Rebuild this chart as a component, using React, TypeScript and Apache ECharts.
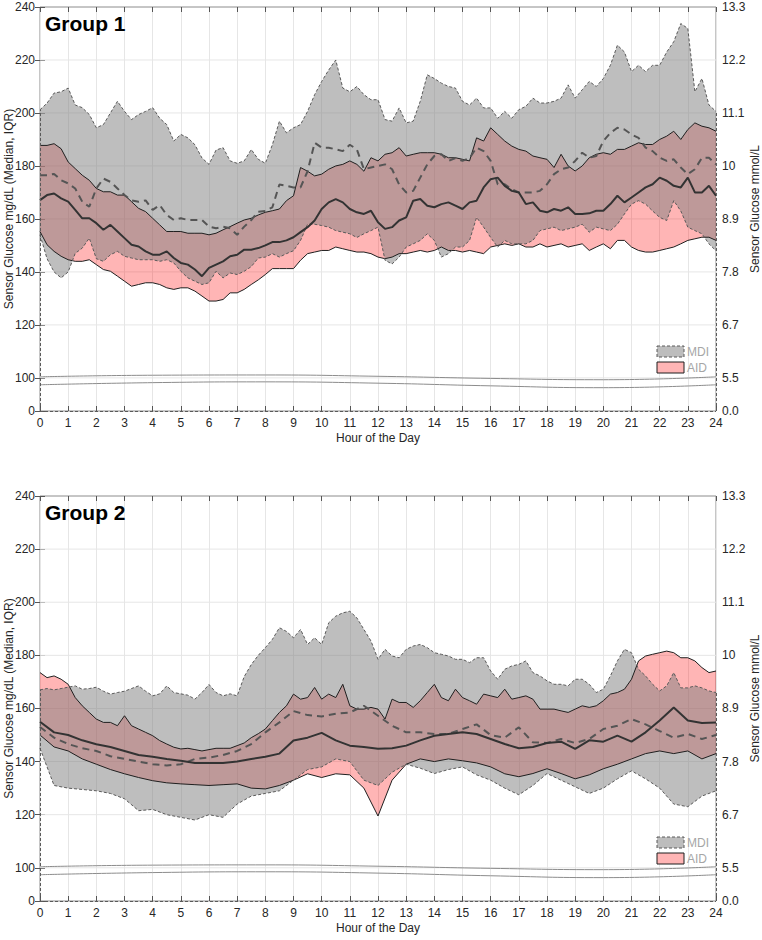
import React, { useEffect, useRef } from "react";
import * as echarts from "echarts";

// ---------- Group 1 (quarter-hour readings, 0..24 h) ----------
const G1_MDI_UPPER = [
  201.2, 203.7, 207.5, 208, 209.4, 203, 202, 199.4, 194.4, 195.6, 200, 204.4, 200.6, 197.5, 199.4, 200.6,
  202, 198, 195.6, 189.4, 191.9, 190.6, 188, 183, 180.6, 186, 186.9, 181.9, 181, 181.9, 186.2, 182.5,
  181, 188, 196.9, 192.5, 194.4, 195.6, 200.6, 206.9, 211.9, 216.2, 220, 209.4, 208, 210, 206.9, 205,
  205, 197.5, 196.9, 201.9, 196.25, 196.9, 204.4, 214.4, 213, 211.25, 210, 209.4, 204.4, 203, 205.6, 201.9,
  201.9, 198, 200.6, 198, 201.25, 202.5, 205.6, 203.75, 203.75, 204.4, 205.6, 210.6, 205.6, 208.75, 211.9, 210,
  213, 218, 225.6, 223, 215.6, 218, 215.6, 218, 218, 223, 226.9, 233.75, 231.9, 208, 213, 203, 200.6,
];
const G1_MDI_LOWER = [
  154, 145, 140, 137.75, 140, 147, 149, 152.75, 145, 144, 146.5, 147.75, 145.9, 145.25, 144.6, 144.6,
  144.6, 144, 144.6, 143.4, 140.25, 137.75, 136.5, 135.25, 135.9, 140.25, 137.75, 139.6, 139, 140.25, 142, 145.25,
  145.6, 146.9, 145.6, 146.9, 148, 151.9, 158, 158, 157.5, 156.9, 155.6, 155, 154.4, 153, 154.4, 155.6,
  156.9, 144.4, 143, 145.6, 149.4, 150.6, 151.9, 154.4, 151.9, 145.6, 146.9, 149.4, 149.4, 151.9, 160.6, 156.9,
  153, 149.4, 151.9, 150.6, 150.6, 150.6, 151.9, 155.6, 156.25, 156.9, 155.6, 156.25, 156.9, 158, 155, 156.9,
  156.25, 155.6, 158, 161.9, 165.6, 166.9, 165.6, 163, 160.6, 159.4, 166.9, 163, 156.9, 155.6, 154.4, 150.6, 148,
];
const G1_MDI_MEDIAN = [
  176.5, 176.5, 177, 174.6, 173.4, 171.5, 166.5, 164.6, 171.5, 175.25, 174, 171.5, 169, 167, 166.5, 167,
  163.4, 165.25, 161.5, 159.6, 160.25, 159.6, 159.6, 159.6, 157.1, 156.5, 157.1, 156.5, 154, 157.1, 159.6, 162.75,
  163, 164.4, 173, 172.5, 171.9, 171.9, 178, 188.75, 186.9, 186.9, 186.25, 185.6, 188, 186.25, 178.75, 179.4,
  180, 180.6, 178.75, 173, 170, 170.6, 175.6, 180.6, 183.75, 184.4, 181.9, 183, 181.9, 183, 186.9, 185.6,
  181.9, 173.1, 173.1, 171.25, 170, 170, 170, 170.6, 173.1, 176.9, 178.75, 179.4, 181.9, 185, 183.1, 183.75,
  189.4, 192.5, 194.4, 193.75, 191.9, 190.6, 186.9, 185.6, 183.1, 181.9, 182.5, 179.4, 176.9, 178.75, 183.1, 183.1, 180.6,
];
const G1_AID_UPPER = [
  187.75, 187.75, 188.4, 186.5, 181.5, 179, 176.5, 174.6, 171.5, 170.25, 170.25, 169, 169, 166.5, 164, 162.75,
  160.25, 157.75, 155.25, 155.25, 155.25, 154.6, 154.6, 154.6, 154, 154.6, 155.9, 157.1, 158.4, 159.6, 160.25, 161.5,
  162.5, 163.1, 163.75, 166.9, 168.75, 179.4, 178, 176.25, 176.9, 178.75, 180, 180.6, 181.9, 180.6, 178, 183.1,
  181.9, 184.4, 185, 186.9, 183.75, 184.4, 185, 185, 185, 184.4, 183.1, 183.1, 182.5, 181.9, 190.6, 189.4,
  194.4, 191.9, 189.4, 187.5, 186.25, 185.6, 183.75, 183.1, 182.5, 179.4, 184.4, 180, 178.1, 180, 183.1, 184.4,
  185, 184.4, 186.25, 186.25, 187.5, 188.75, 188.1, 188.1, 190, 191.25, 193.1, 190, 193.75, 196.25, 195, 194.4, 193.1,
];
const G1_AID_LOWER = [
  155.25, 150.25, 147.75, 145.9, 144.6, 144, 144, 144.6, 142.75, 140.9, 140.25, 138.4, 136.5, 134.6, 135.25, 135.9,
  135.9, 135.25, 134, 133.4, 134, 134, 132.75, 130.9, 129, 129, 129.6, 132.1, 132.1, 133.4, 135.25, 137,
  139, 141.25, 141.25, 141.25, 141.25, 144.4, 146.9, 147.5, 148.1, 148.1, 149.4, 148.75, 148.1, 147.5, 147.5, 146.9,
  145.6, 145, 145.6, 146.9, 146.9, 147.5, 148.1, 147.5, 148.1, 149.4, 148.1, 148.1, 147.5, 148.1, 147.5, 146.9,
  149.4, 150, 150.6, 150, 150.6, 149.4, 149.4, 150.6, 149.4, 150, 150.6, 149.4, 150, 150.6, 148.1, 149.4,
  150.6, 148.75, 151.9, 151.9, 149.4, 148.1, 147.5, 147.5, 148.1, 148.75, 149.4, 150.6, 151.9, 152.5, 153.1, 153.1, 151.9,
];
const G1_AID_MEDIAN = [
  167.1, 169, 169.6, 167.75, 166.5, 163.4, 160.25, 160.25, 158.4, 155.9, 157.75, 155.25, 152.75, 150.25, 149.6, 147.75,
  146.5, 146.5, 147.75, 145.25, 143.4, 142.75, 140.9, 138.4, 141.5, 142.75, 144, 145.9, 146.5, 148.4, 148.4, 149,
  150, 151.25, 151.25, 151.9, 153.1, 155, 156.9, 159.4, 163.75, 166.25, 167.5, 166.25, 163.75, 162.5, 161.9, 163.1,
  158.75, 156.25, 156.9, 159.4, 160.6, 166.9, 167.5, 165, 164.4, 165.6, 166.25, 165, 163.75, 166.25, 166.9, 171.9,
  175, 175.6, 172.5, 170.6, 170, 165.6, 166.25, 163.1, 162.5, 163.75, 163.1, 164.4, 161.9, 161.9, 162.1, 163.1,
  163.1, 165.6, 168.75, 166.25, 168.1, 170, 171.9, 173.1, 175.6, 174.4, 172.5, 171.9, 175.6, 170, 170, 172.5, 168.75,
];

// ---------- Group 2 (upper bounds quarter-hourly, the rest half-hourly) ----------
const G2_MDI_UPPER = [
  167, 167.5, 167, 167.5, 168, 168.5, 167.25, 167.5, 168, 166.5, 165.4, 166, 166.5, 167.5, 168.5, 166.5,
  164.75, 165.5, 168.5, 166, 165.5, 165, 163.5, 166, 169, 166, 164.75, 165.5, 164.75, 172, 176.5, 180,
  182.9, 186, 190.4, 189, 186.6, 189.75, 184.1, 186.6, 184.1, 192.25, 194.75, 196, 196.6, 194.1, 189.75, 185.4,
  178.5, 182.25, 179.75, 179.1, 182.25, 183.5, 184.1, 182.9, 181, 180.4, 179.75, 178.5, 178.5, 177.25, 179.1, 179.1,
  174.1, 171, 174.75, 176, 176.6, 177.9, 173.5, 172.25, 170.4, 169.1, 169.1, 168.5, 171, 171, 169.1, 166,
  167.25, 172.25, 177.9, 182.25, 181, 174.75, 172.25, 169.1, 166.6, 168.5, 173.5, 167.75, 167.75, 168.5, 167.75, 166.6, 166,
];
const G2_AID_UPPER = [
  173.5, 171.6, 172.25, 171, 169.1, 164.1, 161, 158.5, 156, 154.75, 154.75, 153.5, 157.25, 153.5, 152.25, 151,
  149.75, 147.9, 146.6, 145.4, 144.75, 145, 144.5, 144, 144.5, 145, 145, 145, 146, 147, 149, 150.5,
  152.25, 155.4, 158.5, 161, 165.4, 163.5, 164.1, 167.9, 163.5, 165.4, 164.1, 169.1, 161, 159.75, 159.75, 160.4,
  159.75, 156, 163.5, 162.25, 162.25, 160.4, 162.9, 166, 169.1, 164.1, 162.9, 167.25, 164.1, 162.9, 161.6, 165.4,
  164.75, 164.1, 167.25, 163.5, 164.1, 164.75, 163.5, 159.75, 159.75, 159.75, 159.1, 158.5, 159.75, 161, 160.4, 161,
  162.9, 165.4, 166, 167.25, 171, 177.9, 179.75, 180.4, 181, 181.6, 181, 179.1, 179.1, 177.9, 175.4, 173.5, 174.1,
];
const G2_MDI_LOWER = [
  145, 131, 130, 129.5, 129, 128, 126, 121.5, 122, 120, 119, 118, 120, 119, 124, 127,
  128, 129, 133, 137, 138, 141, 140, 133, 131, 136, 139, 137.5, 135.5, 137, 138, 135,
  133, 130, 127.5, 131, 135.5, 133, 130.5, 128, 130, 133.5, 136.5, 133.5, 130, 124, 123, 127, 129,
];
const G2_AID_LOWER = [
  150, 145.5, 144, 141, 139, 137, 135.4, 134, 132.8, 132, 131.6, 131.3, 131, 131.3, 131.6, 130,
  129.7, 131, 133, 135.4, 134, 135.4, 135, 130, 119.5, 133, 139, 141, 140, 141, 140.3, 139.5,
  138, 135.4, 134.3, 135.5, 137.3, 135.5, 133.5, 135, 137.3, 139, 141, 143, 144, 143, 144, 141, 143,
];
const G2_MDI_MEDIAN = [
  153, 149, 146.6, 145, 144, 142, 141, 140, 139, 138.5, 139, 141, 141.5, 142.5, 144, 146.6,
  151, 154.75, 159, 157.5, 157, 158, 158.5, 161, 157.25, 153.5, 151, 151, 150.4, 150.4, 152.25, 154,
  150, 149, 152.9, 147.25, 147, 148.5, 147, 148.5, 152.25, 153.5, 156, 154, 151.5, 149, 150.4, 148.5, 150,
];
const G2_AID_MEDIAN = [
  155, 151, 150, 148, 146.5, 145.5, 144, 142.5, 141.8, 141, 140.3, 139.5, 139.5, 139.5, 140, 141,
  141.8, 143, 147.9, 149, 150.8, 148, 146, 145.5, 144.8, 145, 146, 148, 149.75, 150.4, 151, 150.4,
  148.5, 146.6, 145, 145.5, 147, 147.5, 144.75, 148, 147.5, 149.75, 147.5, 151, 155.5, 160.4, 155.5, 154.5, 154.75,
];

// ---------- axis-break curves ----------
const BREAK_HOURS = [0, 4, 8, 12, 16, 20, 24];
const BREAK_TOP = [100.4, 101.0, 101.1, 100.6, 99.8, 99.3, 100.4];
const BREAK_BOTTOM = [97.4, 98.2, 98.5, 98.0, 97.0, 96.3, 97.4];

// ---------- ticks ----------
const TICK_POSITIONS = [87.5, 100, 120, 140, 160, 180, 200, 220, 240];
const LEFT_TICK_LABELS = ["0", "100", "120", "140", "160", "180", "200", "220", "240"];
const RIGHT_TICK_LABELS = ["0.0", "5.5", "6.7", "7.8", "8.9", "10", "11.1", "12.2", "13.3"];
const H_GRID_VALUES = [100, 120, 140, 160, 180, 200, 220];
const GROUP_TITLES = ["Group 1", "Group 2"];
const LEGEND_NAMES = ["MDI", "AID"];

const FONT = "'Liberation Sans', Arial, Helvetica, sans-serif";
const TXT = "#262626";

function pairs(vals: number[]): number[][] {
  const n = vals.length;
  return vals.map((v, i) => [(24 * i) / (n - 1), v]);
}

function band(upper: number[], lower: number[], fill: string, gi: number) {
  const up = pairs(upper);
  const lo = pairs(lower).reverse();
  const pts = up.concat(lo);
  return {
    type: "custom",
    xAxisIndex: gi * 2,
    yAxisIndex: gi * 2,
    silent: true,
    clip: true,
    z: 3,
    data: [[12, 160]],
    renderItem: (_p: any, api: any) => ({
      type: "polygon",
      shape: { points: pts.map((pt) => api.coord(pt)) },
      style: { fill },
    }),
  };
}

function gridLines(gi: number) {
  return {
    type: "custom",
    xAxisIndex: gi * 2,
    yAxisIndex: gi * 2,
    silent: true,
    clip: true,
    z: 1,
    data: [[12, 160]],
    renderItem: (_p: any, api: any) => ({
      type: "group",
      children: H_GRID_VALUES.map((v) => {
        const a = api.coord([0, v]);
        const b = api.coord([24, v]);
        return {
          type: "line",
          shape: { x1: a[0], y1: a[1], x2: b[0], y2: b[1] },
          style: { stroke: "#e6e6e6", lineWidth: 1 },
        };
      }),
    }),
  };
}

function line(vals: number[], gi: number, color: string, width: number, type: any, extra: any = {}) {
  return {
    type: "line",
    xAxisIndex: gi * 2,
    yAxisIndex: gi * 2,
    data: pairs(vals),
    symbol: "none",
    showSymbol: false,
    silent: true,
    z: 4,
    lineStyle: { color, width, type },
    ...extra,
  };
}

function breakLine(vals: number[], gi: number) {
  return {
    type: "line",
    xAxisIndex: gi * 2,
    yAxisIndex: gi * 2,
    data: BREAK_HOURS.map((h, i) => [h, vals[i]]),
    smooth: true,
    symbol: "none",
    silent: true,
    z: 2,
    lineStyle: { color: "#8c8c8c", width: 1 },
  };
}

export default function App() {
  const ref = useRef<HTMLDivElement>(null);

  useEffect(() => {
    document.body.style.margin = "0";
    if (!ref.current) return;
    const chart = echarts.init(ref.current, undefined, { renderer: "svg" });

    const grids = [
      { left: 40, top: 7, width: 676, height: 404 },
      { left: 40, top: 496, width: 676, height: 405 },
    ];
    const groups = [
      { mdiU: G1_MDI_UPPER, mdiL: G1_MDI_LOWER, mdiM: G1_MDI_MEDIAN, aidU: G1_AID_UPPER, aidL: G1_AID_LOWER, aidM: G1_AID_MEDIAN },
      { mdiU: G2_MDI_UPPER, mdiL: G2_MDI_LOWER, mdiM: G2_MDI_MEDIAN, aidU: G2_AID_UPPER, aidL: G2_AID_LOWER, aidM: G2_AID_MEDIAN },
    ];

    const xAxes: any[] = [];
    const yAxes: any[] = [];
    const series: any[] = [];
    const graphics: any[] = [];

    grids.forEach((g, gi) => {
      xAxes.push({
        type: "value", gridIndex: gi, min: 0, max: 24, interval: 1, position: "bottom",
        name: "Hour of the Day", nameLocation: "middle", nameGap: 21, nameMoveOverlap: false,
        nameTextStyle: { color: TXT, fontSize: 12, fontFamily: FONT },
        axisLine: { show: false },
        axisTick: { show: true, inside: true, length: 5, lineStyle: { color: "#555" } },
        axisLabel: { color: TXT, fontSize: 12, fontFamily: FONT, margin: 6 },
        splitLine: { show: true, lineStyle: { color: "#e6e6e6", width: 1 } },
      });
      xAxes.push({
        type: "value", gridIndex: gi, min: 0, max: 24, interval: 1, position: "top",
        axisLine: { show: false },
        axisTick: { show: true, inside: true, length: 5, lineStyle: { color: "#555" } },
        axisLabel: { show: false }, splitLine: { show: false },
      });
      yAxes.push({
        type: "value", gridIndex: gi, min: 87.5, max: 240, position: "left",
        name: "Sensor Glucose mg/dL (Median, IQR)", nameLocation: "middle", nameGap: 25, nameRotate: 90,
        nameMoveOverlap: false,
        nameTextStyle: { color: TXT, fontSize: 12, fontFamily: FONT },
        axisLine: { show: false },
        axisTick: { show: true, inside: true, length: 5, customValues: TICK_POSITIONS, lineStyle: { color: "#555" } },
        axisLabel: {
          color: TXT, fontSize: 12, fontFamily: FONT, margin: 5, customValues: TICK_POSITIONS,
          formatter: (v: number) => LEFT_TICK_LABELS[TICK_POSITIONS.indexOf(v)] ?? "",
        },
        splitLine: { show: false },
      });
      yAxes.push({
        type: "value", gridIndex: gi, min: 87.5, max: 240, position: "right",
        name: "Sensor Glucose mmol/L", nameLocation: "middle", nameGap: 33, nameRotate: 90,
        nameMoveOverlap: false,
        nameTextStyle: { color: TXT, fontSize: 12, fontFamily: FONT },
        axisLine: { show: false },
        axisTick: { show: true, inside: true, length: 5, customValues: TICK_POSITIONS, lineStyle: { color: "#555" } },
        axisLabel: {
          color: TXT, fontSize: 12, fontFamily: FONT, margin: 6, customValues: TICK_POSITIONS,
          formatter: (v: number) => RIGHT_TICK_LABELS[TICK_POSITIONS.indexOf(v)] ?? "",
        },
        splitLine: { show: false },
      });

      const d = groups[gi];
      series.push(gridLines(gi));
      series.push(breakLine(BREAK_TOP, gi));
      series.push(breakLine(BREAK_BOTTOM, gi));
      // bands
      series.push(band(d.aidU, d.aidL, "rgba(255,0,0,0.29)", gi));
      series.push(band(d.mdiU, d.mdiL, "rgba(125,125,125,0.5)", gi));
      // lines
      series.push(line(d.aidU, gi, "#1f1f1f", 1, "solid"));
      series.push(line(d.aidL, gi, "#1f1f1f", 1, "solid"));
      series.push(
        line(d.mdiU, gi, "#5a5a5a", 1, [3, 2], {
          markLine: {
            silent: true, symbol: "none", label: { show: false },
            lineStyle: { color: "#5a5a5a", width: 1, type: [3, 2] },
            data: [
              [{ coord: [0, 87.5] }, { coord: [0, d.mdiU[0]] }],
              [{ coord: [24, 87.5] }, { coord: [24, d.mdiU[d.mdiU.length - 1]] }],
              [{ coord: [0, 87.5] }, { coord: [24, 87.5] }],
            ],
          },
        })
      );
      series.push(line(d.mdiL, gi, "#5a5a5a", 1, [3, 2]));
      series.push(line(d.mdiM, gi, "#555555", 2, [7, 5]));
      series.push(line(d.aidM, gi, "#333333", 2, "solid"));

      // title
      graphics.push({
        type: "text", left: g.left + 5, top: g.top + 6, z: 10,
        style: { text: GROUP_TITLES[gi], fill: "#000", font: `bold 21px ${FONT}` },
      });
      // legend
      const lx = 657;
      const ly = gi === 0 ? 346 : 837;
      graphics.push({
        type: "rect", shape: { x: lx, y: ly, width: 27, height: 11 }, z: 10,
        style: { fill: "#bdbdbd", stroke: "#5a5a5a", lineWidth: 1, lineDash: [3, 2] },
      });
      graphics.push({
        type: "rect", shape: { x: lx, y: ly + 16, width: 27, height: 11 }, z: 10,
        style: { fill: "#ffb5b5", stroke: "#1f1f1f", lineWidth: 1 },
      });
      graphics.push({
        type: "text", x: lx + 30, y: ly + 6, z: 10,
        style: { text: LEGEND_NAMES[0], fill: "#a6a6a6", font: `12px ${FONT}`, verticalAlign: "middle", align: "left" },
      });
      graphics.push({
        type: "text", x: lx + 30, y: ly + 22, z: 10,
        style: { text: LEGEND_NAMES[1], fill: "#a6a6a6", font: `12px ${FONT}`, verticalAlign: "middle", align: "left" },
      });
    });

    chart.setOption({
      animation: false,
      backgroundColor: "#fff",
      textStyle: { fontFamily: FONT },
      grid: grids.map((g) => ({
        ...g, show: true, borderColor: "#8c8c8c", borderWidth: 1, backgroundColor: "transparent",
        containLabel: false, outerBoundsMode: "none",
      })),
      xAxis: xAxes,
      yAxis: yAxes,
      series,
      graphic: graphics,
    });

    return () => chart.dispose();
  }, []);

  return <div ref={ref} style={{ width: 762, height: 940 }} />;
}
